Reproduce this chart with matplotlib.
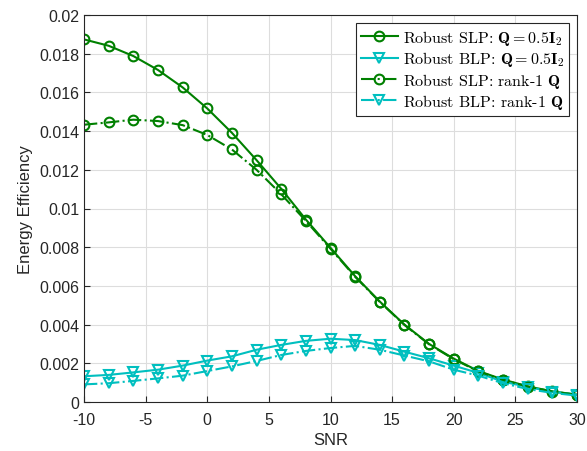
import matplotlib
matplotlib.use("Agg")
import matplotlib.pyplot as plt
from matplotlib.ticker import FuncFormatter

plt.rcParams['font.family'] = ['Liberation Sans', 'DejaVu Sans']
plt.rcParams['mathtext.fontset'] = 'cm'
plt.rcParams['axes.unicode_minus'] = False

snr = list(range(-10, 31, 2))

# Robust SLP, Q = 0.5 I_2
slp_full = [0.01874, 0.01841, 0.01788, 0.01716, 0.01626, 0.01517, 0.01391, 0.0125,
            0.01102, 0.00943, 0.00797, 0.0065, 0.00519, 0.0040, 0.0030, 0.00224,
            0.0016, 0.00116, 0.00081, 0.00055, 0.00038]
# Robust BLP, Q = 0.5 I_2
blp_full = [0.00133, 0.0014, 0.00153, 0.00167, 0.00188, 0.00214, 0.00236, 0.0027,
            0.00295, 0.00316, 0.00327, 0.0032, 0.00295, 0.0026, 0.00226, 0.00188,
            0.0015, 0.00105, 0.00078, 0.00053, 0.00038]
# Robust SLP, rank-1 Q
slp_rank1 = [0.01433, 0.01445, 0.01459, 0.01452, 0.01431, 0.0138, 0.01305, 0.0120,
             0.01074, 0.00936, 0.00792, 0.00647, 0.00517, 0.00398, 0.00298, 0.00221,
             0.00158, 0.00114, 0.0008, 0.00054, 0.00037]
# Robust BLP, rank-1 Q
blp_rank1 = [0.00091, 0.00097, 0.00109, 0.00122, 0.00136, 0.0016, 0.00184, 0.00212,
             0.00243, 0.00264, 0.00279, 0.0029, 0.0027, 0.0024, 0.0021, 0.00167,
             0.00136, 0.00097, 0.00067, 0.00047, 0.00033]

green = '#008000'
cyan = '#00BFBF'

fig = plt.figure(figsize=(5.87, 4.52), dpi=100)
ax = fig.add_axes([84/587, 49/452, 493/587, 387/452])

style = dict(mfc='none', ms=7, mew=1.5, lw=1.5)
ax.plot(snr, slp_full, '-', color=green, marker='o',
        label=r'Robust SLP: $\mathbf{Q}=0.5\mathbf{I}_2$', **style)
ax.plot(snr, blp_full, '-', color=cyan, marker='v',
        label=r'Robust BLP: $\mathbf{Q}=0.5\mathbf{I}_2$', **style)
ax.plot(snr, slp_rank1, '-.', color=green, marker='o',
        label=r'Robust SLP: rank$\mathbf{\text{-}1}$ $\mathbf{Q}$', **style)
ax.plot(snr, blp_rank1, '-.', color=cyan, marker='v',
        label=r'Robust BLP: rank$\mathbf{\text{-}1}$ $\mathbf{Q}$', **style)

ax.set_xlim(-10, 30)
ax.set_ylim(0, 0.02)
ax.set_xticks(range(-10, 31, 5))
ax.set_yticks([i * 0.002 for i in range(11)])
ax.yaxis.set_major_formatter(FuncFormatter(lambda v, p: '%g' % round(v, 4)))
ax.tick_params(direction='in', labelsize=11.5, colors='#262626', length=4)
ax.tick_params(axis='x', pad=7)
for s in ax.spines.values():
    s.set_color('#262626')
    s.set_linewidth(0.8)
ax.grid(True, color='#dddddd', lw=0.8)
ax.set_axisbelow(True)

ax.set_xlabel('SNR', fontsize=12, color='#262626')
ax.set_ylabel('Energy Efficiency', fontsize=12, color='#262626')

leg = ax.legend(loc='upper right', prop={'family': 'cmr10', 'size': 11.5}, fancybox=False,
                framealpha=1, edgecolor='#262626', handlelength=2.3, borderpad=0.3,
                labelspacing=0.15, handletextpad=0.3, borderaxespad=0.5)
leg.get_frame().set_linewidth(0.8)

fig.savefig('out.png', dpi=100)
